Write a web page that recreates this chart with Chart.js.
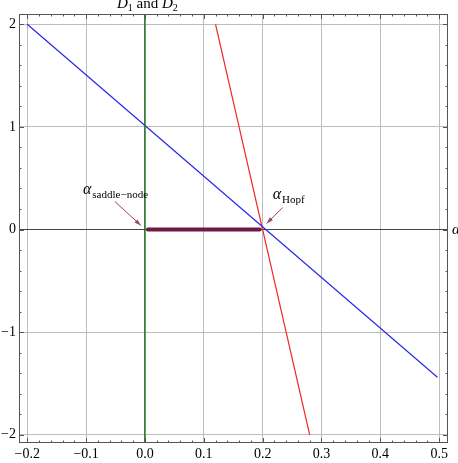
<!DOCTYPE html>
<html>
<head>
<meta charset="utf-8">
<script src="https://cdn.jsdelivr.net/npm/chart.js@4/dist/chart.umd.min.js"></script>
<style>
  html, body { margin: 0; padding: 0; background: #fff; }
  #wrap { width: 458px; height: 463px; }
</style>
</head>
<body>
<div id="wrap"><canvas id="d1d2"></canvas></div>
<script>
// axis ranges and ticks
const xMin = -0.214, xMax = 0.515;
const yMin = -2.08, yMax = 2.1;
const xTicks = [-0.2, -0.1, 0.0, 0.1, 0.2, 0.3, 0.4, 0.5];
const yTicks = [-2, -1, 0, 1, 2];

// D1 (blue) and D2 (red) lines
const blueAlpha = [-0.2, 0.497];
const blueD = [2, -1.44];
const redAlpha = [0.12, 0.28];
const redD = [2, -2];
// vertical green line at alpha = 0
const greenAlpha = [0, 0];
const greenD = [yMin, yMax];
// thick segment between the two bifurcation points
const segAlpha = [0.005, 0.195];
const segD = [0, 0];

// bifurcation points that the arrows point at
const markAlpha = [0, 0.2];
const markNames = ["saddle\u2212node", "Hopf"];

const pts = (xs, ys) => xs.map((x, i) => ({ x: x, y: ys[i] }));
const minus = (s) => s.replace("-", "\u2212");

const frame = {
  id: "frame",
  afterDatasetsDraw(chart) {
    const ctx = chart.ctx;
    const a = chart.chartArea;
    const xs = chart.scales.x, ys = chart.scales.y;
    ctx.save();
    ctx.strokeStyle = "#555";
    ctx.lineWidth = 1;
    ctx.strokeRect(a.left + 0.5, a.top + 0.5, a.right - a.left - 1, a.bottom - a.top - 1);
    // ticks on the frame
    ctx.beginPath();
    for (let i = -11; i <= 26; i++) {
      const v = i * 0.02;
      if (v < xMin || v > xMax) continue;
      const p = Math.round(xs.getPixelForValue(v)) + 0.5;
      const len = i % 5 === 0 ? 5 : 2.5;
      ctx.moveTo(p, a.bottom); ctx.lineTo(p, a.bottom - len);
      ctx.moveTo(p, a.top); ctx.lineTo(p, a.top + len);
    }
    for (let i = -10; i <= 10; i++) {
      const v = i * 0.2;
      if (v < yMin || v > yMax) continue;
      const p = Math.round(ys.getPixelForValue(v)) + 0.5;
      const len = i % 5 === 0 ? 5 : 2.5;
      ctx.moveTo(a.left, p); ctx.lineTo(a.left + len, p);
      ctx.moveTo(a.right, p); ctx.lineTo(a.right - len, p);
    }
    ctx.stroke();

    // axis labels
    ctx.fillStyle = "#000";
    ctx.textBaseline = "alphabetic";
    const x0 = xs.getPixelForValue(0);
    ctx.font = "italic 15px 'Liberation Serif'";
    ctx.textAlign = "left";
    let tx = x0 - 28;
    ctx.fillText("D", tx, 8);
    tx += ctx.measureText("D").width;
    ctx.font = "10px 'Liberation Serif'";
    ctx.fillText("1", tx, 11);
    tx += ctx.measureText("1").width;
    ctx.font = "15px 'Liberation Serif'";
    ctx.fillText(" and ", tx, 8);
    tx += ctx.measureText(" and ").width;
    ctx.font = "italic 15px 'Liberation Serif'";
    ctx.fillText("D", tx, 8);
    tx += ctx.measureText("D").width;
    ctx.font = "10px 'Liberation Serif'";
    ctx.fillText("2", tx, 11);
    ctx.font = "italic 15px 'Liberation Serif'";
    ctx.fillText("\u03b1", a.right + 4, ys.getPixelForValue(0) + 4);

    // arrows and labels at the bifurcation points
    const arrows = [
      { tip: [-4, -4], tail: [-30, -28], text: [-62, -36] },
      { tip: [4, -6], tail: [20, -22], text: [10, -31] }
    ];
    markAlpha.forEach((m, i) => {
      const px = xs.getPixelForValue(m), py = ys.getPixelForValue(0);
      const ar = arrows[i];
      const hx = px + ar.tip[0], hy = py + ar.tip[1];
      const sx = px + ar.tail[0], sy = py + ar.tail[1];
      ctx.strokeStyle = "rgb(150,70,110)";
      ctx.fillStyle = "rgb(150,70,110)";
      ctx.lineWidth = 1;
      ctx.beginPath(); ctx.moveTo(sx, sy); ctx.lineTo(hx, hy); ctx.stroke();
      const ang = Math.atan2(hy - sy, hx - sx);
      ctx.beginPath();
      ctx.moveTo(hx, hy);
      ctx.lineTo(hx - 7 * Math.cos(ang - 0.3), hy - 7 * Math.sin(ang - 0.3));
      ctx.lineTo(hx - 7 * Math.cos(ang + 0.3), hy - 7 * Math.sin(ang + 0.3));
      ctx.closePath(); ctx.fill();
      ctx.fillStyle = "#000";
      let lx = px + ar.text[0];
      const ly = py + ar.text[1];
      ctx.font = "italic 16px 'Liberation Serif'";
      ctx.fillText("\u03b1", lx, ly);
      lx += ctx.measureText("\u03b1").width + 1;
      ctx.font = "11px 'Liberation Serif'";
      ctx.fillText(markNames[i], lx, ly + 4);
    });
    ctx.restore();
  }
};

new Chart(document.getElementById("d1d2"), {
  type: "scatter",
  data: {
    datasets: [
      { data: pts(greenAlpha, greenD), borderColor: "rgb(30,110,30)", borderWidth: 1.5 },
      { data: pts(blueAlpha, blueD), borderColor: "rgb(40,40,235)", borderWidth: 1.2 },
      { data: pts(redAlpha, redD), borderColor: "rgb(235,40,40)", borderWidth: 1.2 },
      { data: pts(segAlpha, segD), borderColor: "rgb(115,25,70)", borderWidth: 4, borderCapStyle: "round" }
    ].map(d => Object.assign(d, { showLine: true, pointRadius: 0, fill: false }))
  },
  options: {
    animation: false,
    responsive: true,
    maintainAspectRatio: false,
    layout: { padding: { top: 14, right: 10, left: 0, bottom: 0 } },
    plugins: { legend: { display: false }, tooltip: { enabled: false } },
    scales: {
      x: {
        type: "linear",
        min: xMin, max: xMax,
        afterBuildTicks: (s) => { s.ticks = xTicks.map(v => ({ value: v })); },
        afterFit: (s) => { s.height = 20; },
        border: { display: false },
        grid: { color: "#bdbdbd", lineWidth: 1, drawTicks: false },
        ticks: {
          padding: 3, color: "#000", maxRotation: 0,
          font: { family: "'Liberation Serif'", size: 14 },
          callback: (v) => minus(v.toFixed(1))
        }
      },
      y: {
        type: "linear",
        min: yMin, max: yMax,
        afterBuildTicks: (s) => { s.ticks = yTicks.map(v => ({ value: v })); },
        afterFit: (s) => { s.width = 19; },
        border: { display: false },
        grid: {
          color: (c) => (c.tick && c.tick.value === 0 ? "#444" : "#bdbdbd"),
          lineWidth: 1, drawTicks: false
        },
        ticks: {
          padding: 3, color: "#000",
          font: { family: "'Liberation Serif'", size: 14 },
          callback: (v) => minus(String(v))
        }
      }
    }
  },
  plugins: [frame]
});
</script>
</body>
</html>
